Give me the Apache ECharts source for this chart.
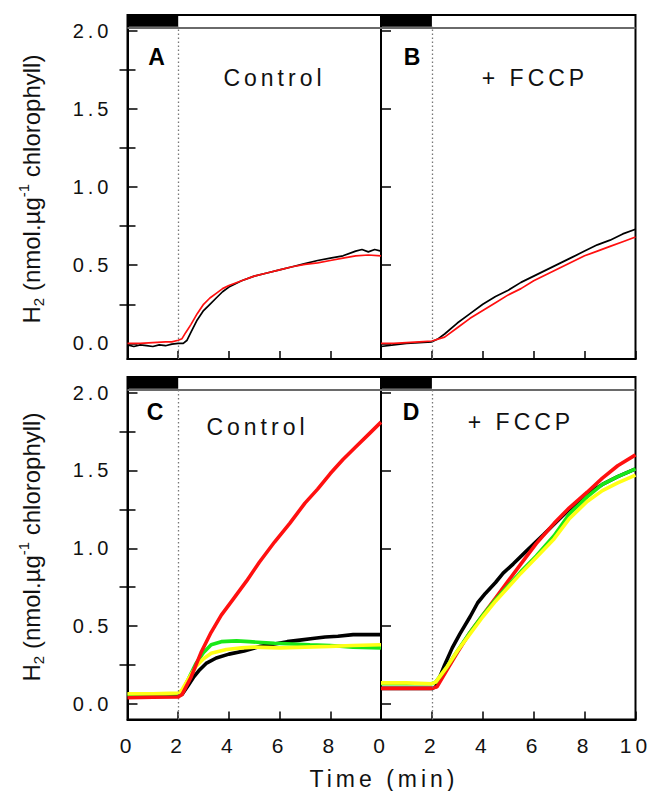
<!DOCTYPE html>
<html><head><meta charset="utf-8">
<script src="https://cdn.jsdelivr.net/npm/echarts@6/dist/echarts.min.js"></script>
<style>
html,body{margin:0;padding:0;background:#fff}
#c{width:651px;height:791px}
text[style*="Helvetica"]{letter-spacing:4px}
</style></head><body><div id="c"></div>
<script>
// ---------- data (time in min, H2 in nmol/ug chlorophyll) ----------
const panelA_black = [[0,-0.01],[0.25,-0.02],[0.5,-0.01],[0.75,-0.015],[1,-0.02],[1.25,-0.01],[1.5,-0.015],[1.75,-0.005],[2,0.0],[2.2,0.0],[2.35,0.02],[2.5,0.07],[2.75,0.15],[3,0.21],[3.25,0.25],[3.5,0.29],[3.75,0.33],[4,0.36],[4.5,0.40],[5,0.43],[5.5,0.45],[6,0.47],[6.5,0.49],[7,0.51],[7.5,0.53],[8,0.545],[8.5,0.56],[9,0.59],[9.25,0.60],[9.5,0.585],[9.75,0.60],[10,0.59]];
const panelA_red   = [[0,0.0],[0.5,0.0],[1,0.005],[1.5,0.01],[1.75,0.01],[2,0.02],[2.15,0.03],[2.3,0.07],[2.5,0.12],[2.75,0.19],[3,0.25],[3.25,0.29],[3.5,0.32],[3.75,0.35],[4,0.37],[4.5,0.40],[5,0.43],[5.5,0.45],[6,0.47],[6.5,0.49],[7,0.505],[7.5,0.515],[8,0.53],[8.5,0.545],[9,0.56],[9.5,0.565],[10,0.56]];
const panelB_black = [[0,-0.02],[0.5,-0.01],[1,0.0],[1.5,0.005],[2,0.01],[2.25,0.03],[2.5,0.06],[3,0.13],[3.5,0.19],[4,0.25],[4.5,0.30],[5,0.34],[5.5,0.39],[6,0.43],[6.5,0.47],[7,0.51],[7.5,0.55],[8,0.59],[8.5,0.63],[9,0.66],[9.5,0.70],[10,0.73]];
const panelB_red   = [[0,0.0],[0.5,0.0],[1,0.005],[1.5,0.01],[2,0.015],[2.5,0.04],[3,0.10],[3.5,0.16],[4,0.21],[4.5,0.26],[5,0.31],[5.5,0.35],[6,0.40],[6.5,0.44],[7,0.48],[7.5,0.52],[8,0.56],[8.5,0.59],[9,0.62],[9.5,0.65],[10,0.68]];
const panelC_black = [[0,0.05],[0.5,0.05],[1,0.052],[1.5,0.053],[2,0.055],[2.15,0.06],[2.4,0.12],[2.6,0.17],[2.85,0.22],[3.1,0.26],[3.5,0.295],[4,0.32],[4.6,0.34],[5.25,0.37],[5.8,0.385],[6.3,0.40],[6.8,0.41],[7.3,0.42],[7.8,0.43],[8.3,0.435],[8.9,0.445],[9.4,0.445],[10,0.445]];
const panelC_green = [[0,0.06],[1,0.06],[2,0.065],[2.15,0.08],[2.4,0.16],[2.7,0.26],[3,0.33],[3.3,0.38],[3.7,0.40],[4.3,0.405],[4.8,0.40],[5.3,0.395],[5.8,0.39],[6.5,0.385],[7.2,0.38],[8,0.375],[8.9,0.365],[10,0.36]];
const panelC_yellow= [[0,0.065],[1,0.065],[2,0.07],[2.15,0.09],[2.4,0.16],[2.7,0.24],[3,0.29],[3.3,0.325],[3.9,0.35],[4.5,0.36],[5,0.365],[6,0.36],[7,0.365],[8,0.37],[8.9,0.375],[10,0.38]];
const panelC_red   = [[0,0.04],[1,0.043],[2,0.045],[2.15,0.06],[2.5,0.17],[2.9,0.33],[3.3,0.46],[3.7,0.57],[4.2,0.68],[4.7,0.79],[5.2,0.91],[5.8,1.04],[6.4,1.16],[7,1.29],[7.5,1.38],[8,1.48],[8.5,1.57],[9,1.65],[9.5,1.73],[10,1.81]];
const panelD_black = [[0,0.10],[1,0.10],[2,0.10],[2.15,0.11],[2.5,0.25],[2.8,0.36],[3.1,0.45],[3.5,0.56],[3.8,0.65],[4.1,0.71],[4.5,0.78],[4.8,0.84],[5.2,0.90],[5.7,0.98],[6.4,1.09],[6.9,1.17],[7.4,1.25],[8,1.34],[8.7,1.41],[9.3,1.46],[10,1.51]];
const panelD_red   = [[0,0.10],[1,0.10],[2,0.10],[2.2,0.11],[2.6,0.22],[3,0.33],[3.5,0.46],[4,0.57],[4.5,0.68],[5,0.79],[5.5,0.90],[6.1,1.03],[6.8,1.16],[7.4,1.26],[8.1,1.36],[8.7,1.45],[9.3,1.53],[10,1.60]];
const panelD_green = [[0,0.13],[1,0.13],[2,0.13],[2.15,0.14],[2.6,0.24],[3,0.34],[3.5,0.46],[4,0.57],[4.5,0.67],[5,0.76],[5.5,0.85],[6.1,0.95],[6.8,1.08],[7.4,1.22],[8.1,1.33],[8.7,1.41],[9.3,1.46],[10,1.51]];
const panelD_yellow= [[0,0.135],[1,0.135],[2,0.13],[2.15,0.14],[2.6,0.24],[3,0.34],[3.5,0.45],[4,0.56],[4.5,0.66],[5,0.75],[5.5,0.84],[6.1,0.94],[6.8,1.06],[7.4,1.19],[8.1,1.30],[8.7,1.37],[9.3,1.42],[10,1.47]];

const darkPeriod = [0, 2];          // dark phase (black bar), light switched on at 2 min
const barBand = [2.025, 2.1];       // y-range used for the light/dark bar
const yTickLabels = ['0.0','0.5','1.0','1.5','2.0'];
const xTickLabels = ['0','2','4','6','8','10'];
const panelLetters = ['A','B','C','D'];
const panelConditions = ['Control','+ FCCP','Control','+ FCCP'];
const yTitle = 'H{sub|2}\u00a0(nmol.µg{sup|-1}\u00a0chlorophyll)';
const xTitle = 'Time (min)';

// ---------- chart ----------
const X_MIN = 0, X_MAX = 10, Y_MIN = -0.1, Y_MAX = 2.1;
const SPACED = '"Liberation Sans", Helvetica';
const PLAIN = '"Liberation Sans"';

const grids = [
  {left:127.5, top:15, width:253.5, height:344},
  {left:381, top:15, width:254.5, height:344},
  {left:127.5, top:377, width:253.5, height:342.5},
  {left:381, top:377, width:254.5, height:342.5}
].map(g => Object.assign(g, {show:true, borderColor:'#000', borderWidth:2, backgroundColor:'#fff'}));

const xAxes = grids.map((g, i) => ({
  type:'value', gridIndex:i, min:X_MIN, max:X_MAX, interval:2,
  axisLine:{show:true, onZero:false, lineStyle:{color:'#000', width:2}},
  axisTick:{show:true, inside:true, length:8, lineStyle:{color:'#000', width:1.5}},
  splitLine:{show:false},
  axisLabel:{show:i>=2, showMaxLabel:i===3, margin:15, fontSize:21, fontFamily:SPACED, color:'#111',
    formatter:v => { const s = xTickLabels.find(t => Number(t) === v); return s === undefined ? '' : s; }}
}));

function yLabelFmt(v){ const s = yTickLabels.find(t => Math.abs(Number(t) - v) < 1e-9); return s === undefined ? '' : s; }
const yAxes = grids.map((g, i) => ({
  type:'value', gridIndex:i, min:Y_MIN, max:Y_MAX, position:'left',
  axisLine:{show:true, onZero:false, lineStyle:{color:'#000', width:2}},
  axisTick:{show:true, inside:true, length:10, lineStyle:{color:'#000', width:1.5}},
  minorTick:{show:(i===0||i===2), splitNumber:2, length:8, lineStyle:{color:'#000', width:1.5}},
  splitLine:{show:false},
  axisLabel:{show:(i===0||i===2), showMinLabel:false, showMaxLabel:false, margin:15, fontSize:20, fontFamily:SPACED, color:'#111', formatter:yLabelFmt}
}));
// right-hand minor ticks of panels A and C (pointing into the left panels)
[0,2].forEach(i => yAxes.push({
  type:'value', gridIndex:i, min:Y_MIN, max:Y_MAX, position:'right',
  axisLine:{show:false}, axisLabel:{show:false}, splitLine:{show:false},
  axisTick:{show:false, inside:true},
  minorTick:{show:true, splitNumber:2, length:8, lineStyle:{color:'#000', width:1.5}}
}));

function markers(){
  return {
    markArea:{silent:true, itemStyle:{color:'#000'},
      data:[[{xAxis:darkPeriod[0], yAxis:barBand[0]},{xAxis:darkPeriod[1], yAxis:barBand[1]}]]},
    markLine:{silent:true, symbol:['none','none'], label:{show:false}, animation:false,
      data:[
        {yAxis:barBand[0], lineStyle:{color:'#6a6a6a', width:2, type:'solid'}},
        [{coord:[darkPeriod[1], Y_MIN], lineStyle:{color:'#777', width:1.3, type:[1.5,2.5]}},
         {coord:[darkPeriod[1], barBand[0]], lineStyle:{color:'#777', width:1.3, type:[1.5,2.5]}}]
      ]}
  };
}
function line(idx, data, color, width, z, withMarkers){
  const s = {type:'line', xAxisIndex:idx, yAxisIndex:idx, data:data, symbol:'none', showSymbol:false,
    lineStyle:{color:color, width:width}, itemStyle:{color:color}, z:z, silent:true, animation:false};
  if (withMarkers) Object.assign(s, markers());
  return s;
}
const RED = '#ff1010', GREEN = '#18e818', YELLOW = '#ffff14', BLACK = '#000';
const series = [
  line(0, panelA_black, BLACK, 1.7, 2, true),
  line(0, panelA_red, RED, 1.7, 3),
  line(1, panelB_black, BLACK, 1.7, 2, true),
  line(1, panelB_red, RED, 1.7, 3),
  line(2, panelC_black, BLACK, 3.6, 2, true),
  line(2, panelC_green, GREEN, 3.6, 3),
  line(2, panelC_yellow, YELLOW, 3.6, 4),
  line(2, panelC_red, RED, 3.6, 5),
  line(3, panelD_black, BLACK, 3.6, 2, true),
  line(3, panelD_red, RED, 3.6, 3),
  line(3, panelD_green, GREEN, 3.6, 4),
  line(3, panelD_yellow, YELLOW, 3.6, 5)
];

const letterPos = [[156.5,57],[412,57],[155,412],[411,412]];
const condPos = [[274.5,77.5],[535,77.5],[257.5,426.5],[521,421.7]];
const graphic = [];
panelLetters.forEach((t, i) => graphic.push({type:'text', x:letterPos[i][0], y:letterPos[i][1], silent:true,
  style:{text:t, fontSize:23, fontWeight:'bold', fontFamily:PLAIN, fill:'#000', textAlign:'center', textVerticalAlign:'middle'}}));
panelConditions.forEach((t, i) => graphic.push({type:'text', x:condPos[i][0], y:condPos[i][1], silent:true,
  style:{text:t, fontSize:23, fontFamily:SPACED, fill:'#111', textAlign:'center', textVerticalAlign:'middle'}}));
[[31,189],[31,547]].forEach(p => graphic.push({type:'text', x:p[0], y:p[1], rotation:Math.PI/2, silent:true,
  style:{text:yTitle, fontSize:24, fontFamily:PLAIN, fill:'#111', textAlign:'center', textVerticalAlign:'middle', lineHeight:30,
    rich:{sub:{fontSize:15, fontFamily:PLAIN, verticalAlign:'bottom', lineHeight:30},
          sup:{fontSize:15, fontFamily:PLAIN, verticalAlign:'top', lineHeight:30}}}}));
graphic.push({type:'text', x:384, y:779, silent:true,
  style:{text:xTitle, fontSize:23, fontFamily:SPACED, fill:'#111', textAlign:'center', textVerticalAlign:'middle'}});

const chart = echarts.init(document.getElementById('c'), null, {renderer:'svg'});
chart.setOption({
  animation:false, backgroundColor:'#fff',
  grid:grids, xAxis:xAxes, yAxis:yAxes, series:series, graphic:graphic
});
</script></body></html>
